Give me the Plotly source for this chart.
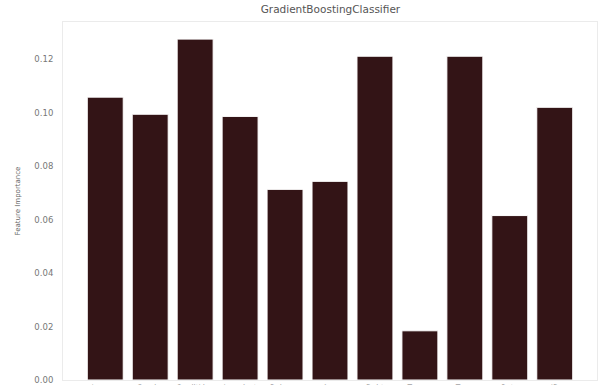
import plotly.graph_objects as go

# Feature importances from a fitted GradientBoostingClassifier
features = ["Income", "Gender", "CreditLine", "LoanAmt", "Balance",
            "Age", "Debt", "Tenure", "Term", "Rate", "ID"]
importances = [0.1058, 0.0994, 0.1275, 0.0986, 0.0713, 0.0743,
               0.1211, 0.0184, 0.1211, 0.0615, 0.1020]

y_ticks = [0.00, 0.02, 0.04, 0.06, 0.08, 0.10, 0.12]

fig = go.Figure(
    go.Bar(
        x=list(range(len(features))),
        y=importances,
        width=0.8,
        marker=dict(color="#331416", line=dict(color="#ffffff", width=1)),
    )
)

fig.update_layout(
    width=603,
    height=385,
    margin=dict(l=63, r=6, t=22, b=5, autoexpand=False),
    paper_bgcolor="white",
    plot_bgcolor="white",
    showlegend=False,
    font=dict(family="DejaVu Sans", color="#666666"),
    title=dict(
        text="GradientBoostingClassifier",
        x=0.548, xanchor="center",
        y=0.985, yanchor="top",
        font=dict(size=10.5, color="#555555"),
    ),
)

fig.update_xaxes(
    range=[-0.94, 10.94],
    tickmode="array",
    tickvals=list(range(len(features))),
    ticktext=features,
    tickangle=0,
    tickfont=dict(size=7.5, color="#777777"),
    automargin=False,
    showgrid=False,
    zeroline=False,
    showline=True, mirror=True, linecolor="#ebebeb", linewidth=1,
    ticks="",
)

fig.update_yaxes(
    range=[0, 0.1339],
    tickmode="array",
    tickvals=y_ticks,
    ticktext=[f"{v:.2f}" for v in y_ticks],
    tickfont=dict(size=8.5, color="#777777"),
    ticklabelstandoff=7,
    automargin=False,
    title=dict(text="Feature Importance", font=dict(size=7, color="#666666"), standoff=12),
    showgrid=False,
    zeroline=False,
    showline=True, mirror=True, linecolor="#ebebeb", linewidth=1,
    ticks="",
)

fig.write_html("out.html")
